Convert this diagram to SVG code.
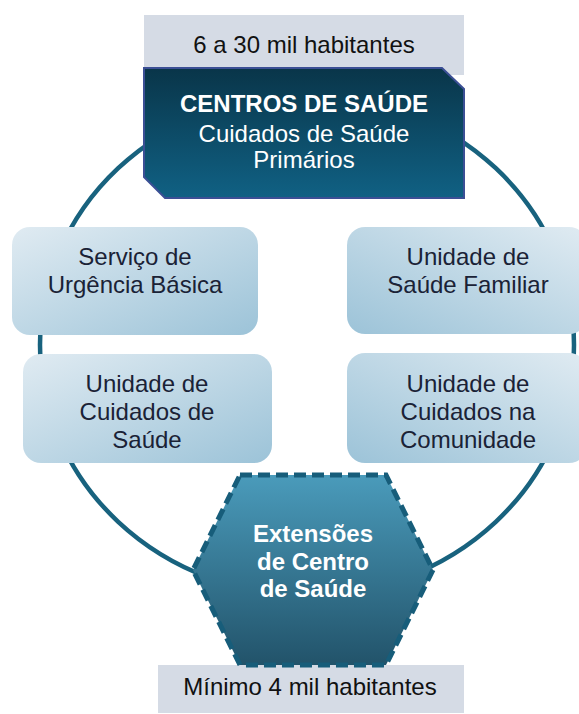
<svg xmlns="http://www.w3.org/2000/svg" width="579" height="714" viewBox="0 0 579 714">
<defs>
<linearGradient id="gDark" x1="0" y1="0" x2="0" y2="1">
<stop offset="0" stop-color="#093549"/>
<stop offset="1" stop-color="#106184"/>
</linearGradient>
<linearGradient id="gHex" x1="0" y1="0" x2="0" y2="1">
<stop offset="0" stop-color="#4a9bbb"/>
<stop offset="1" stop-color="#22536a"/>
</linearGradient>
<linearGradient id="gLeft" x1="0" y1="0" x2="1" y2="1">
<stop offset="0" stop-color="#e0ebf2"/>
<stop offset="1" stop-color="#9cc3d8"/>
</linearGradient>
<linearGradient id="gRight" x1="1" y1="0" x2="0" y2="1">
<stop offset="0" stop-color="#e0ebf2"/>
<stop offset="1" stop-color="#9cc3d8"/>
</linearGradient>
<style>
.lbl{font-family:"Liberation Sans",Arial,sans-serif;font-size:24px;fill:#111;text-anchor:middle}
.box{font-family:"Liberation Sans",Arial,sans-serif;font-size:24px;fill:#1a2236;text-anchor:middle}
.wt{font-family:"Liberation Sans",Arial,sans-serif;font-size:24px;fill:#fff;text-anchor:middle}
.b{font-weight:bold}
.gray{fill:#d5dbe5}
</style>
</defs>
<rect width="579" height="714" fill="#fff"/>
<g id="connectors">
<ellipse cx="307" cy="345" rx="267" ry="250" fill="none" stroke="#18627e" stroke-width="4.5"/>
</g>
<g id="top-label">
<rect class="gray" x="144" y="15" width="320" height="60"/>
<text class="lbl" x="304" y="53">6 a 30 mil habitantes</text>
</g>
<g id="centros">
<path d="M144,68 H442 L464,89 V198 H165 L144,177 Z" fill="url(#gDark)" stroke="#3b4f95" stroke-width="2"/>
<text class="wt b" x="304" y="112">CENTROS DE SAÚDE</text>
<text class="wt" x="304" y="142">Cuidados de Saúde</text>
<text class="wt" x="304" y="168">Primários</text>
</g>
<g id="urgencia">
<rect x="12" y="227" width="246" height="108" rx="18" fill="url(#gLeft)"/>
<text class="box" x="135" y="265">Serviço de</text>
<text class="box" x="135" y="293">Urgência Básica</text>
</g>
<g id="ucs">
<rect x="23" y="354" width="249" height="109" rx="18" fill="url(#gLeft)"/>
<text class="box" x="147" y="392">Unidade de</text>
<text class="box" x="147" y="420">Cuidados de</text>
<text class="box" x="147" y="448">Saúde</text>
</g>
<g id="usf">
<rect x="347" y="227" width="240" height="107" rx="18" fill="url(#gRight)"/>
<text class="box" x="468" y="265">Unidade de</text>
<text class="box" x="468" y="293">Saúde Familiar</text>
</g>
<g id="ucc">
<rect x="347" y="353" width="240" height="110" rx="18" fill="url(#gRight)"/>
<text class="box" x="468" y="392">Unidade de</text>
<text class="box" x="468" y="420">Cuidados na</text>
<text class="box" x="468" y="448">Comunidade</text>
</g>
<g id="bottom-label">
<rect class="gray" x="158" y="665" width="306" height="48"/>
</g>
<g id="extensoes">
<path d="M240,475 H386 L433,570 L386,665 H240 L193,570 Z" fill="url(#gHex)" stroke="#175d7a" stroke-width="5" stroke-dasharray="12,6"/>
<text class="wt b" x="313" y="542">Extensões</text>
<text class="wt b" x="313" y="570">de Centro</text>
<text class="wt b" x="313" y="597">de Saúde</text>
</g>
<g id="bottom-text">
<text class="lbl" x="310" y="695">Mínimo 4 mil habitantes</text>
</g>
</svg>
